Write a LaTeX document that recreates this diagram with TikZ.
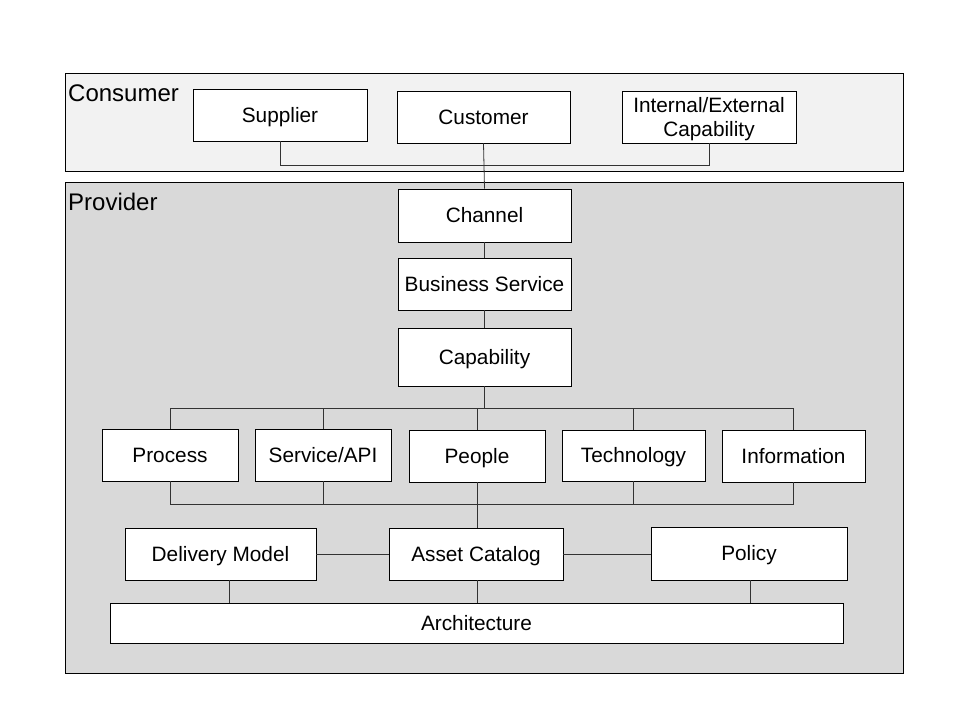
\documentclass[tikz,border=0pt]{standalone}
\usepackage{fontspec}
\setmainfont{Liberation Sans}
\begin{document}
\begin{tikzpicture}[x=1pt,y=-1pt,
  box/.style={draw=black, fill=white, line width=0.8pt, inner sep=0pt, align=center,
    font=\fontsize{20.8}{24}\selectfont, text height=14.9pt, text depth=0pt},
  cont/.style={draw=black, line width=0.8pt},
  lbl/.style={anchor=base west, inner sep=0pt, font=\fontsize{24}{28}\selectfont},
  conn/.style={draw=black!80, line width=0.8pt}]
\useasboundingbox (0,0) rectangle (960,720);
% containers
\path[cont, fill=black!5] (65,73) rectangle (903,171);
\path[cont, fill=black!15] (65,182) rectangle (903,673);
\node[lbl] (conslbl) at (68,101.7) {Consumer};
\node[lbl] (provlbl) at (68,210.7) {Provider};
% consumer boxes
\node[box, minimum width=174pt, minimum height=52pt] (sup) at (280,115) {Supplier};
\node[box, minimum width=173pt, minimum height=52pt] (cus) at (483.5,117) {Customer};
\node[box, minimum width=174pt, minimum height=52pt, text height=38.9pt] (int) at (709,117) {Internal/External\\Capability};
% provider boxes
\node[box, minimum width=173pt, minimum height=53pt] (chan) at (484.5,215.5) {Channel};
\node[box, minimum width=173pt, minimum height=52pt] (bs) at (484.5,284) {Business Service};
\node[box, minimum width=173pt, minimum height=58pt] (cap) at (484.5,357) {Capability};
\node[box, minimum width=136pt, minimum height=52pt] (proc) at (170,455) {Process};
\node[box, minimum width=136pt, minimum height=52pt] (svc) at (323,455) {Service/API};
\node[box, minimum width=136pt, minimum height=52pt] (ppl) at (477,456) {People};
\node[box, minimum width=143pt, minimum height=51pt] (tech) at (633.5,455.5) {Technology};
\node[box, minimum width=143pt, minimum height=52pt] (info) at (793.5,456) {Information};
\node[box, minimum width=191pt, minimum height=52pt] (dm) at (220.5,554) {Delivery Model};
\node[box, minimum width=174pt, minimum height=52pt] (ac) at (476,554) {Asset Catalog};
\node[box, minimum width=196pt, minimum height=53pt] (pol) at (749,553.5) {Policy};
\node[box, minimum width=733pt, minimum height=40pt] (arch) at (476.5,623) {Architecture};
% consumer connectors
\coordinate (cbus) at (0,165);
\draw[conn] (sup.south) -- (sup.south |- cbus) -- (int.south |- cbus) -- (int.south);
\draw[conn] (cus.south) -- (chan.north);
\draw[conn] (chan.south) -- (bs.north);
\draw[conn] (bs.south) -- (cap.north);
% capability fan-out
\coordinate (tbus) at (0,408);
\draw[conn] (cap.south) -- (cap.south |- tbus);
\draw[conn] (proc.north) -- (proc.north |- tbus) -- (info.north |- tbus) -- (info.north);
\draw[conn] (svc.north) -- (svc.north |- tbus);
\draw[conn] (ppl.north) -- (ppl.north |- tbus);
\draw[conn] (tech.north) -- (tech.north |- tbus);
% bottom bus
\coordinate (bbus) at (0,504);
\draw[conn] (proc.south) -- (proc.south |- bbus) -- (info.south |- bbus) -- (info.south);
\draw[conn] (svc.south) -- (svc.south |- bbus);
\draw[conn] (tech.south) -- (tech.south |- bbus);
\draw[conn] (ppl.south) -- (ac.north -| ppl.south);
% lower row
\draw[conn] (dm.east) -- (ac.west);
\draw[conn] (ac.east) -- (ac.east -| pol.west);
\coordinate (dmo) at ([xshift=8.5pt]dm.south);
\coordinate (aco) at ([xshift=1pt]ac.south);
\coordinate (polo) at ([xshift=1pt]pol.south);
\draw[conn] (dmo) -- (arch.north -| dmo);
\draw[conn] (aco) -- (arch.north -| aco);
\draw[conn] (polo) -- (arch.north -| polo);
\end{tikzpicture}
\end{document}
